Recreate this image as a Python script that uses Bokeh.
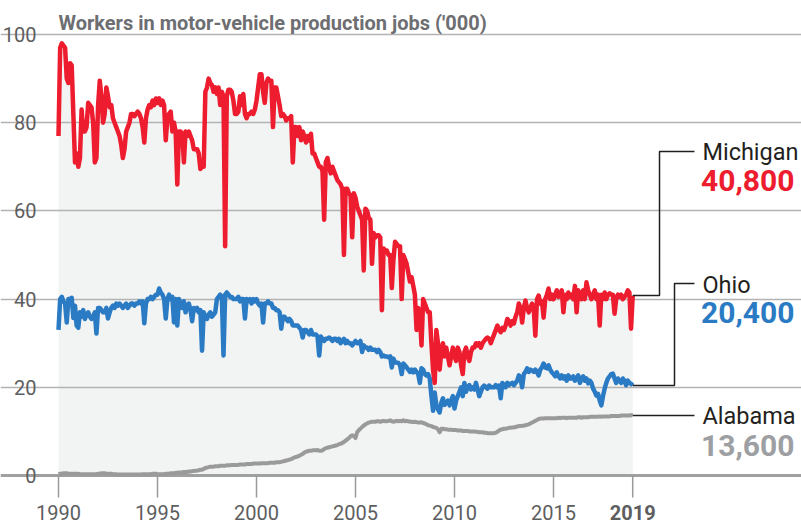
from bokeh.plotting import figure
from bokeh.models import Range1d, FixedTicker, Grid
from bokeh.core.properties import value
from bokeh.embed import file_html
from bokeh.resources import INLINE

# ---------------- data (thousands of workers, monthly Jan 1990 .. Jan 2019) ----------------
first_year = 1990
michigan = [
    77, 97, 98, 97.5, 97, 90, 89, 93.5, 93, 82, 71, 73,          # 1990
    70, 72, 83, 78, 78, 79, 84.5, 84, 83.5, 80, 71, 72,          # 1991
    84, 89.5, 86, 80, 82, 88, 86, 83.5, 84, 81, 80, 79,          # 1992
    78, 77, 75, 72, 74, 78, 79, 80, 82, 82, 81.5, 82,            # 1993
    82.5, 82, 81, 79, 75.5, 81, 83, 84, 83.5, 85, 84, 85.5,      # 1994
    84.5, 85.5, 84, 85, 84, 76, 81, 82, 82.5, 78, 80, 78,        # 1995
    66, 78, 78, 77.5, 71, 78, 77, 78, 77, 76, 74, 74,            # 1996
    74, 73, 69.5, 70, 70, 87, 88, 90, 89, 88.5, 87, 88,          # 1997
    86.5, 88, 84, 87, 86, 52, 86, 87.5, 87.5, 87, 85, 82,        # 1998
    82, 82.5, 86, 84, 86.5, 82, 81, 82, 82, 82.5, 82, 83,        # 1999
    85, 88, 91, 91, 87, 84.5, 89, 90, 89.5, 89.5, 79, 88,        # 2000
    88, 86, 84, 81.5, 82, 81.5, 80.5, 81, 81, 81.5, 71, 79,      # 2001
    79, 77, 79, 76, 78, 77, 75.5, 77, 76, 77.5, 73, 73,          # 2002
    72, 71, 70, 70, 69, 58, 71, 72, 70, 68.5, 70, 69,            # 2003
    68, 67, 66.5, 66, 65, 50, 65, 65, 64, 63.5, 54, 64,          # 2004
    63, 61, 60, 59, 58, 46.5, 60.5, 60, 58.5, 58, 48, 55,        # 2005
    54, 54.5, 54.5, 54, 37.5, 51.5, 51, 51, 50, 50, 42.5, 49,    # 2006
    53, 52.5, 52, 52, 40, 50, 49, 48, 46, 44, 45, 43,            # 2007
    41, 33, 38, 37, 29.5, 40, 39, 38, 37, 37, 30, 24,            # 2008
    21, 33, 30, 24, 28, 30, 27, 29, 27, 25, 27, 29,              # 2009
    27, 26, 29, 28, 25, 23, 28, 29, 27, 26, 28, 29,              # 2010
    29, 30, 29.5, 30, 29, 30, 30.5, 31, 31.3, 31, 30, 31,        # 2011
    32, 33, 34, 33, 32.5, 33.5, 33, 34, 35.5, 35, 34, 35,        # 2012
    34.5, 36, 37, 39, 38, 34.7, 38, 39.7, 38, 37, 38, 39,        # 2013
    38, 31.7, 40, 40.8, 39, 39.5, 35.8, 40, 41, 42.4, 40, 41,    # 2014
    40, 41, 42, 40.5, 41, 42, 37, 41, 40, 41.5, 40.5, 41,        # 2015
    40, 43, 37, 42, 41, 40, 42, 40, 43.8, 42, 41, 40,            # 2016
    41, 42, 40, 41, 34, 41, 40, 41.5, 40, 41, 41.3, 41,          # 2017
    41, 36.7, 40, 41, 40.5, 41, 40, 40.5, 41, 42, 41.5, 33.3,    # 2018
    40.8,                                                        # 2019
]
ohio = [
    33, 40, 40.5, 39.5, 39, 34.7, 40, 40, 40.3, 35.7, 38.5, 34,  # 1990
    33.5, 37, 36, 37.5, 35.5, 36.5, 37, 36, 35.5, 36, 37, 32.2,  # 1991
    38, 38, 37.5, 37, 37, 38, 35.6, 37, 38, 38.5, 38, 39,        # 1992
    38.5, 39, 38.5, 38, 38.5, 39, 38, 38.5, 39, 39, 38.5, 39,    # 1993
    39, 39.5, 39, 39.5, 34.5, 39, 40, 40, 40.5, 40, 40.5, 41,    # 1994
    41, 42.4, 41.5, 41, 40, 35.6, 40, 41, 40, 40.5, 34.7, 40,    # 1995
    34, 40, 39, 38, 39.5, 37, 38.5, 39, 37.5, 35, 38, 37.5,      # 1996
    38, 37, 37.5, 28.3, 37, 36, 35.5, 36.5, 37, 36, 36.5, 37,    # 1997
    40, 40.5, 41, 40.5, 27.2, 41, 41.5, 41, 40.5, 40.5, 40, 40,  # 1998
    40, 40.5, 39.5, 40, 40, 35.6, 40, 39.5, 40, 39, 40, 39.5,    # 1999
    40, 39, 38.5, 39, 34.7, 39, 39, 39.5, 39, 39, 38, 38,        # 2000
    37.5, 37.5, 37, 33.3, 36, 36, 35.5, 35, 35.5, 35, 34, 34,    # 2001
    34, 34, 33.5, 33, 31.3, 33, 33, 32.5, 32, 33, 32, 32,        # 2002
    32, 31.5, 27.2, 31.5, 31, 30.5, 31, 31, 31.3, 31, 30.5, 31,  # 2003
    31, 30.5, 31, 30, 30.5, 31, 30, 30.5, 30, 30, 29.5, 30,      # 2004
    30.5, 30, 30, 30.5, 28, 29.5, 29, 29, 28.5, 29, 28.5, 28.5,  # 2005
    28.5, 28, 28.5, 28, 27, 27.2, 27, 27, 26.8, 27, 24.5, 26.5,  # 2006
    25.6, 25.6, 25.5, 25, 23, 25.4, 25, 24.5, 24, 23.5, 24, 23.4,  # 2007
    24, 23.5, 23, 21, 24.3, 24, 23, 22.7, 23, 22, 18.1, 14.7,    # 2008
    18.8, 16, 15, 14.3, 16.5, 17.5, 16, 16.5, 17, 15.9, 17, 18,  # 2009
    15.2, 17, 18, 19, 20, 18, 21, 19, 20, 20.5, 19.5, 20,        # 2010
    19.5, 21, 19.5, 18, 19, 20, 20.4, 20, 19.7, 20.4, 20, 20,    # 2011
    20, 20.5, 20, 20.4, 17.5, 21, 20.5, 20, 21, 20.5, 20.8, 21,  # 2012
    20.5, 21, 21.5, 22.7, 22, 20, 23, 23.5, 24.3, 23.5, 24, 23.8,  # 2013
    23.5, 24, 23.4, 22.7, 24, 24.5, 25.4, 24.5, 24.3, 25, 24, 23.4,  # 2014
    23, 22.5, 23.4, 22.5, 22, 22.7, 22, 22.5, 21.5, 22.7, 22, 22,  # 2015
    22.5, 21.5, 22, 22.7, 21, 22, 22.5, 21.5, 22, 20.9, 21.5, 21,  # 2016
    19.7, 19, 18.1, 18.5, 17, 15.9, 18, 19.7, 21, 22, 22.5, 23,  # 2017
    23.1, 22, 21, 22, 21.5, 21, 22, 21.5, 20.5, 21.5, 21, 20.8,  # 2018
    20.4,                                                        # 2019
]
alabama = [
    0.3, 0.4, 0.4, 0.5, 0.5, 0.5, 0.4, 0.4, 0.4, 0.4, 0.4, 0.4,        # 1990
    0.4, 0.3, 0.3, 0.3, 0.3, 0.3, 0.3, 0.3, 0.3, 0.3, 0.3, 0.3,        # 1991
    0.4, 0.4, 0.5, 0.5, 0.5, 0.4, 0.4, 0.4, 0.4, 0.3, 0.3, 0.3,        # 1992
    0.2, 0.2, 0.2, 0.2, 0.2, 0.2, 0.2, 0.2, 0.2, 0.2, 0.2, 0.2,        # 1993
    0.2, 0.2, 0.2, 0.3, 0.3, 0.3, 0.3, 0.3, 0.3, 0.4, 0.4, 0.4,        # 1994
    0.3, 0.3, 0.3, 0.3, 0.3, 0.4, 0.4, 0.4, 0.5, 0.5, 0.5, 0.6,        # 1995
    0.6, 0.7, 0.7, 0.7, 0.8, 0.8, 0.8, 0.9, 0.9, 1.0, 1.0, 1.1,        # 1996
    1.1, 1.2, 1.3, 1.3, 1.5, 1.7, 1.8, 1.9, 2.0, 2.0, 2.0, 2.1,        # 1997
    2.1, 2.1, 2.2, 2.2, 2.2, 2.2, 2.3, 2.3, 2.3, 2.4, 2.4, 2.4,        # 1998
    2.4, 2.4, 2.5, 2.5, 2.5, 2.5, 2.6, 2.6, 2.6, 2.6, 2.7, 2.7,        # 1999
    2.7, 2.7, 2.7, 2.8, 2.8, 2.8, 2.8, 2.8, 2.9, 2.9, 2.9, 2.9,        # 2000
    3.0, 3.0, 3.0, 3.1, 3.2, 3.3, 3.4, 3.5, 3.6, 3.7, 3.9, 4.1,        # 2001
    4.2, 4.3, 4.5, 4.7, 4.9, 5.2, 5.4, 5.5, 5.6, 5.6, 5.7, 5.7,        # 2002
    5.7, 5.8, 5.6, 5.6, 5.7, 6.0, 6.2, 6.3, 6.4, 6.5, 6.6, 6.7,        # 2003
    6.8, 6.9, 7.1, 7.2, 7.4, 7.6, 7.9, 8.2, 8.5, 8.9, 9.1, 9.0,        # 2004
    8.5, 9.8, 10.3, 10.6, 11.0, 11.3, 11.6, 11.8, 12.0, 12.1, 12.2, 12.2,  # 2005
    12.2, 12.3, 12.3, 12.2, 12.3, 12.4, 12.3, 12.3, 12.4, 12.5, 12.3, 12.2,  # 2006
    12.3, 12.4, 12.3, 12.4, 12.3, 12.5, 12.3, 12.4, 12.3, 12.2, 12.2, 12.1,  # 2007
    12.2, 12.1, 12.0, 12.0, 12.1, 11.9, 11.8, 11.6, 11.4, 11.3, 11.2, 11.0,  # 2008
    10.9, 10.8, 10.5, 9.8, 10.6, 10.6, 10.5, 10.5, 10.4, 10.4, 10.4, 10.3,  # 2009
    10.3, 10.3, 10.2, 10.2, 10.2, 10.1, 10.1, 10.1, 10.1, 10.0, 10.0, 10.0,  # 2010
    10.0, 9.9, 9.9, 9.8, 9.8, 9.8, 9.7, 9.7, 9.6, 9.6, 9.6, 9.6,       # 2011
    9.6, 9.7, 9.9, 10.2, 10.4, 10.5, 10.6, 10.6, 10.7, 10.8, 10.8, 10.9,  # 2012
    10.9, 11.0, 11.1, 11.2, 11.2, 11.3, 11.3, 11.4, 11.5, 11.6, 11.8, 12.0,  # 2013
    12.2, 12.4, 12.6, 12.8, 12.9, 12.9, 12.9, 13.0, 13.0, 13.0, 13.0, 13.0,  # 2014
    13.0, 13.0, 13.0, 13.1, 13.0, 13.1, 13.1, 13.1, 13.0, 13.1, 13.1, 13.1,  # 2015
    13.1, 13.1, 13.1, 13.2, 13.2, 13.1, 13.2, 13.2, 13.2, 13.2, 13.3, 13.3,  # 2016
    13.3, 13.3, 13.3, 13.3, 13.4, 13.3, 13.4, 13.4, 13.4, 13.4, 13.4, 13.5,  # 2017
    13.5, 13.5, 13.5, 13.5, 13.5, 13.6, 13.6, 13.6, 13.6, 13.6, 13.6, 13.7,  # 2018
    13.6,                                                              # 2019
]
y_ticks = [0, 20, 40, 60, 80, 100]
x_ticks = [1990, 1995, 2000, 2005, 2010, 2015, 2019]
states = ["Michigan", "Ohio", "Alabama"]
end_labels = ["40,800", "20,400", "13,600"]
title_text = "Workers in motor-vehicle production jobs ('000)"

months = [first_year + i / 12 for i in range(len(michigan))]

RED = "#ed1c2e"
BLUE = "#2a7bc4"
GREY = "#9a9a9a"
AXIS_TXT = "#5d5e60"
FONT = "Roboto"

p = figure(width=801, height=527,
           x_range=Range1d(1987.0707, 2027.5253), y_range=Range1d(-11.791, 107.71),
           x_axis_location=None, y_axis_location=None,
           output_backend="svg", toolbar_location=None,
           min_border=0, min_border_left=0, min_border_right=0,
           min_border_top=0, min_border_bottom=0)
p.outline_line_color = None
p.background_fill_color = "white"
p.center = [r for r in p.center if not isinstance(r, Grid)]

GRID_BOUNDS = (1989.192, 2019.76)
grid = Grid(dimension=1, ticker=FixedTicker(ticks=y_ticks[1:]), grid_line_color="#b3b3b3",
            grid_line_width=1.5, bounds=GRID_BOUNDS)
zero = Grid(dimension=1, ticker=FixedTicker(ticks=[0]), grid_line_color="#9fa0a2",
            grid_line_width=3, bounds=GRID_BOUNDS)
p.add_layout(grid)
p.add_layout(zero)

# fill under Michigan (below the grid lines)
fill = p.varea(x=months, y1=[0] * len(months), y2=michigan, fill_color="#f2f3f3")
fill.level = "image"

# x tick marks and labels
p.segment(x0=x_ticks, x1=x_ticks, y0=[0] * len(x_ticks), y1=[-5] * len(x_ticks),
          line_color="#9a9a9a", line_width=1.5)
p.text(x=x_ticks[:-1], y=[-8.5] * (len(x_ticks) - 1), text=[str(t) for t in x_ticks[:-1]],
       text_font=value(FONT), text_font_size="20px", text_color=AXIS_TXT,
       text_align="center", text_baseline="middle")
p.text(x=x_ticks[-1:], y=[-8.5], text=[str(x_ticks[-1])],
       text_font=value(FONT), text_font_size="20px", text_font_style="bold",
       text_color=AXIS_TXT, text_align="center", text_baseline="middle")

# y tick labels
p.text(x=[1988.89] * len(y_ticks), y=y_ticks, text=[str(t) for t in y_ticks],
       text_font=value(FONT), text_font_size="20px", text_color=AXIS_TXT,
       text_align="right", text_baseline="middle")

# lines
p.line(months, alabama, line_color=GREY, line_width=4, line_join="round")
p.line(months, ohio, line_color=BLUE, line_width=4.5, line_join="round")
p.line(months, michigan, line_color=RED, line_width=4.5, line_join="round")

# leaders
x_end = months[-1]
p.line([x_end, 2020.354, 2020.354, 2022.12], [michigan[-1], michigan[-1], 73.47, 73.47],
       line_color="#231f20", line_width=1.5)
p.line([x_end, 2021.111, 2021.111, 2022.12], [ohio[-1], ohio[-1], 43.54, 43.54],
       line_color="#231f20", line_width=1.5)
p.line([x_end, 2022.12], [alabama[-1], alabama[-1]], line_color="#231f20", line_width=1.5)

# end labels
name_y = [73.3, 43.2, 13.4]
val_y = [66.8, 37.0, 6.7]
val_col = [RED, BLUE, "#9d9fa2"]
p.text(x=[2022.52] * 3, y=name_y, text=states, text_font=value(FONT),
       text_font_size="23.5px", text_color="#231f20", text_baseline="middle", text_align="left")
p.text(x=[2022.45] * 3, y=val_y, text=end_labels, text_font=value(FONT),
       text_font_size="30px", text_font_style="bold", text_color=val_col,
       text_baseline="middle", text_align="left")

# title
p.text(x=[1990], y=[102.5], text=[title_text], text_font=value(FONT),
       text_font_size="20px", text_font_style="bold", text_color="#6d6e71",
       text_baseline="alphabetic", text_align="left")

open("out.html", "w").write(file_html(p, INLINE))
